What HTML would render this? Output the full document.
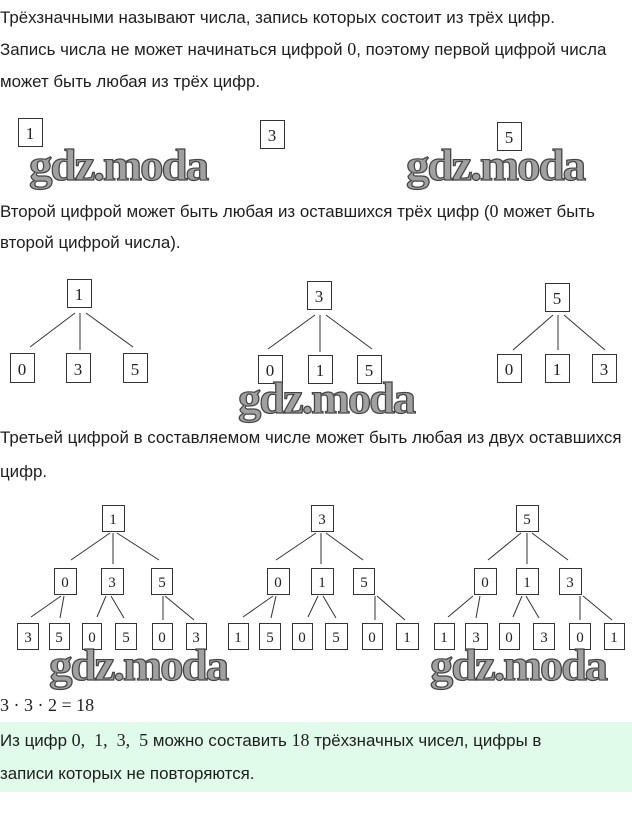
<!DOCTYPE html>
<html><head><meta charset="utf-8"><style>
body{margin:0;width:632px;height:828px;background:#fff;position:relative;overflow:hidden;font-family:"Liberation Sans",sans-serif;color:#1e1e1e}
.t{position:absolute;left:0;font-size:16.9px;white-space:nowrap;line-height:18px}
.m{font-family:"Liberation Serif",serif;font-size:18px}
.green{position:absolute;left:0;top:722px;width:632px;height:70px;background:#e1fbeb}
svg{position:absolute;left:0;top:0}
.wm{font-family:"Liberation Serif",serif;font-weight:bold;font-size:44px;fill:#a0a0a0;stroke:#444;stroke-width:1.2px;letter-spacing:-2px}
</style></head><body>
<div class="t" style="top:9px">Трёхзначными называют числа, запись которых состоит из трёх цифр.</div>
<div class="t" style="top:40px">Запись числа не может начинаться цифрой <span class="m">0</span>, поэтому первой цифрой числа</div>
<div class="t" style="top:73px">может быть любая из трёх цифр.</div>
<div class="t" style="top:202px">Второй цифрой может быть любая из оставшихся трёх цифр (<span class="m">0</span> может быть</div>
<div class="t" style="top:234px">второй цифрой числа).</div>
<div class="t" style="top:429px">Третьей цифрой в составляемом числе может быть любая из двух оставшихся</div>
<div class="t" style="top:463px">цифр.</div>
<div class="t m" style="top:696px">3 · 3 · 2 = 18</div>
<div class="green"></div>
<div class="t" style="top:731px">Из цифр <span class="m">0,&nbsp; 1,&nbsp; 3,&nbsp; 5</span> можно составить <span class="m">18</span> трёхзначных чисел, цифры в</div>
<div class="t" style="top:765px">записи которых не повторяются.</div>
<svg width="632" height="828" viewBox="0 0 632 828" font-family="Liberation Serif,serif" font-size="17">
<g fill="none" stroke="#333" stroke-width="1">
<rect x="18.5" y="118.5" width="24" height="28"/><rect x="260.5" y="120.5" width="24" height="28"/><rect x="497.5" y="122.5" width="24" height="28"/>
<rect x="67.5" y="279.5" width="24" height="28"/><rect x="10.5" y="353.5" width="24" height="29"/><rect x="66.5" y="353.5" width="24" height="29"/><rect x="123.5" y="353.5" width="24" height="29"/>
<path d="M75 313L30 347M80 313V350M86 313L133 347"/>
<rect x="307.5" y="281.5" width="24" height="28"/><rect x="258.5" y="355.5" width="24" height="28"/><rect x="308.5" y="355.5" width="24" height="28"/><rect x="357.5" y="355.5" width="24" height="28"/>
<path d="M315 315L268 349M320 315V352M326 315L372 349"/>
<rect x="545.5" y="283.5" width="24" height="28"/><rect x="497.5" y="354.5" width="24" height="28"/><rect x="545.5" y="354.5" width="24" height="28"/><rect x="592.5" y="354.5" width="24" height="28"/>
<path d="M553 315L513 350M558 315V350M564 315L605 350"/>
<rect x="102.5" y="505.5" width="22" height="26"/>
<rect x="54.5" y="568.5" width="22" height="26"/><rect x="101.5" y="568.5" width="22" height="26"/><rect x="151.5" y="568.5" width="21" height="26"/>
<path d="M110 533L71 560M113 533V564M117 533L159 560"/>
<rect x="17.5" y="623.5" width="21" height="26"/><rect x="49.5" y="623.5" width="20" height="26"/><rect x="82.5" y="623.5" width="19" height="26"/><rect x="115.5" y="623.5" width="21" height="26"/><rect x="152.5" y="623.5" width="20" height="26"/><rect x="186.5" y="623.5" width="20" height="26"/>
<path d="M61 596L31 617M64 596L60 618M106 596L97 617M111 596L124 618M163 596V620M165 596L194 620"/>
<rect x="311.5" y="505.5" width="22" height="26"/>
<rect x="267.5" y="568.5" width="22" height="26"/><rect x="311.5" y="568.5" width="22" height="26"/><rect x="353.5" y="568.5" width="21" height="26"/>
<path d="M316 533L276 560M321 533V564M326 533L363 560"/>
<rect x="228.5" y="623.5" width="20" height="26"/><rect x="259.5" y="623.5" width="21" height="26"/><rect x="292.5" y="623.5" width="20" height="26"/><rect x="325.5" y="623.5" width="22" height="26"/><rect x="362.5" y="623.5" width="20" height="26"/><rect x="396.5" y="623.5" width="22" height="26"/>
<path d="M273 596L243 617M276 596L271 618M318 596L308 617M323 596L336 618M375 596V620M377 596L405 620"/>
<rect x="516.5" y="505.5" width="22" height="26"/>
<rect x="474.5" y="568.5" width="22" height="26"/><rect x="516.5" y="568.5" width="22" height="26"/><rect x="559.5" y="568.5" width="22" height="26"/>
<path d="M521 533L488 560M527 533V564M532 533L568 560"/>
<rect x="434.5" y="623.5" width="20" height="26"/><rect x="465.5" y="623.5" width="22" height="26"/><rect x="499.5" y="623.5" width="20" height="26"/><rect x="533.5" y="623.5" width="21" height="26"/><rect x="569.5" y="623.5" width="21" height="26"/><rect x="604.5" y="623.5" width="20" height="26"/>
<path d="M473 596L448 617M480 596L476 618M522 596L513 617M526 596L539 618M580 596V620M583 596L612 620"/>
</g>
<g fill="#222" text-anchor="middle">
<text x="30" y="139">1</text><text x="272" y="141">3</text><text x="509" y="143">5</text>
<text x="79" y="300">1</text><text x="22" y="375">0</text><text x="78" y="375">3</text><text x="135" y="375">5</text>
<text x="319" y="302">3</text><text x="270" y="376">0</text><text x="320" y="376">1</text><text x="369" y="376">5</text>
<text x="557" y="304">5</text><text x="509" y="375">0</text><text x="557" y="375">1</text><text x="604" y="375">3</text>
<g font-size="15">
<text x="113" y="524">1</text><text x="65" y="587">0</text><text x="112" y="587">3</text><text x="162" y="587">5</text>
<text x="28" y="642">3</text><text x="59" y="642">5</text><text x="92" y="642">0</text><text x="126" y="642">5</text><text x="162" y="642">0</text><text x="196" y="642">3</text>
<text x="322" y="524">3</text><text x="278" y="587">0</text><text x="322" y="587">1</text><text x="364" y="587">5</text>
<text x="238" y="642">1</text><text x="270" y="642">5</text><text x="302" y="642">0</text><text x="336" y="642">5</text><text x="372" y="642">0</text><text x="407" y="642">1</text>
<text x="527" y="524">5</text><text x="485" y="587">0</text><text x="527" y="587">1</text><text x="570" y="587">3</text>
<text x="444" y="642">1</text><text x="476" y="642">3</text><text x="509" y="642">0</text><text x="544" y="642">3</text><text x="580" y="642">0</text><text x="614" y="642">1</text>
</g></g>
<g class="wm">
<text x="29" y="180" textLength="178" lengthAdjust="spacingAndGlyphs">gdz.moda</text>
<text x="406" y="180" textLength="178" lengthAdjust="spacingAndGlyphs">gdz.moda</text>
<text x="238" y="413" textLength="176" lengthAdjust="spacingAndGlyphs">gdz.moda</text>
<text x="49" y="680" textLength="178" lengthAdjust="spacingAndGlyphs">gdz.moda</text>
<text x="430" y="680" textLength="176" lengthAdjust="spacingAndGlyphs">gdz.moda</text>
</g>
</svg>
</body></html>
